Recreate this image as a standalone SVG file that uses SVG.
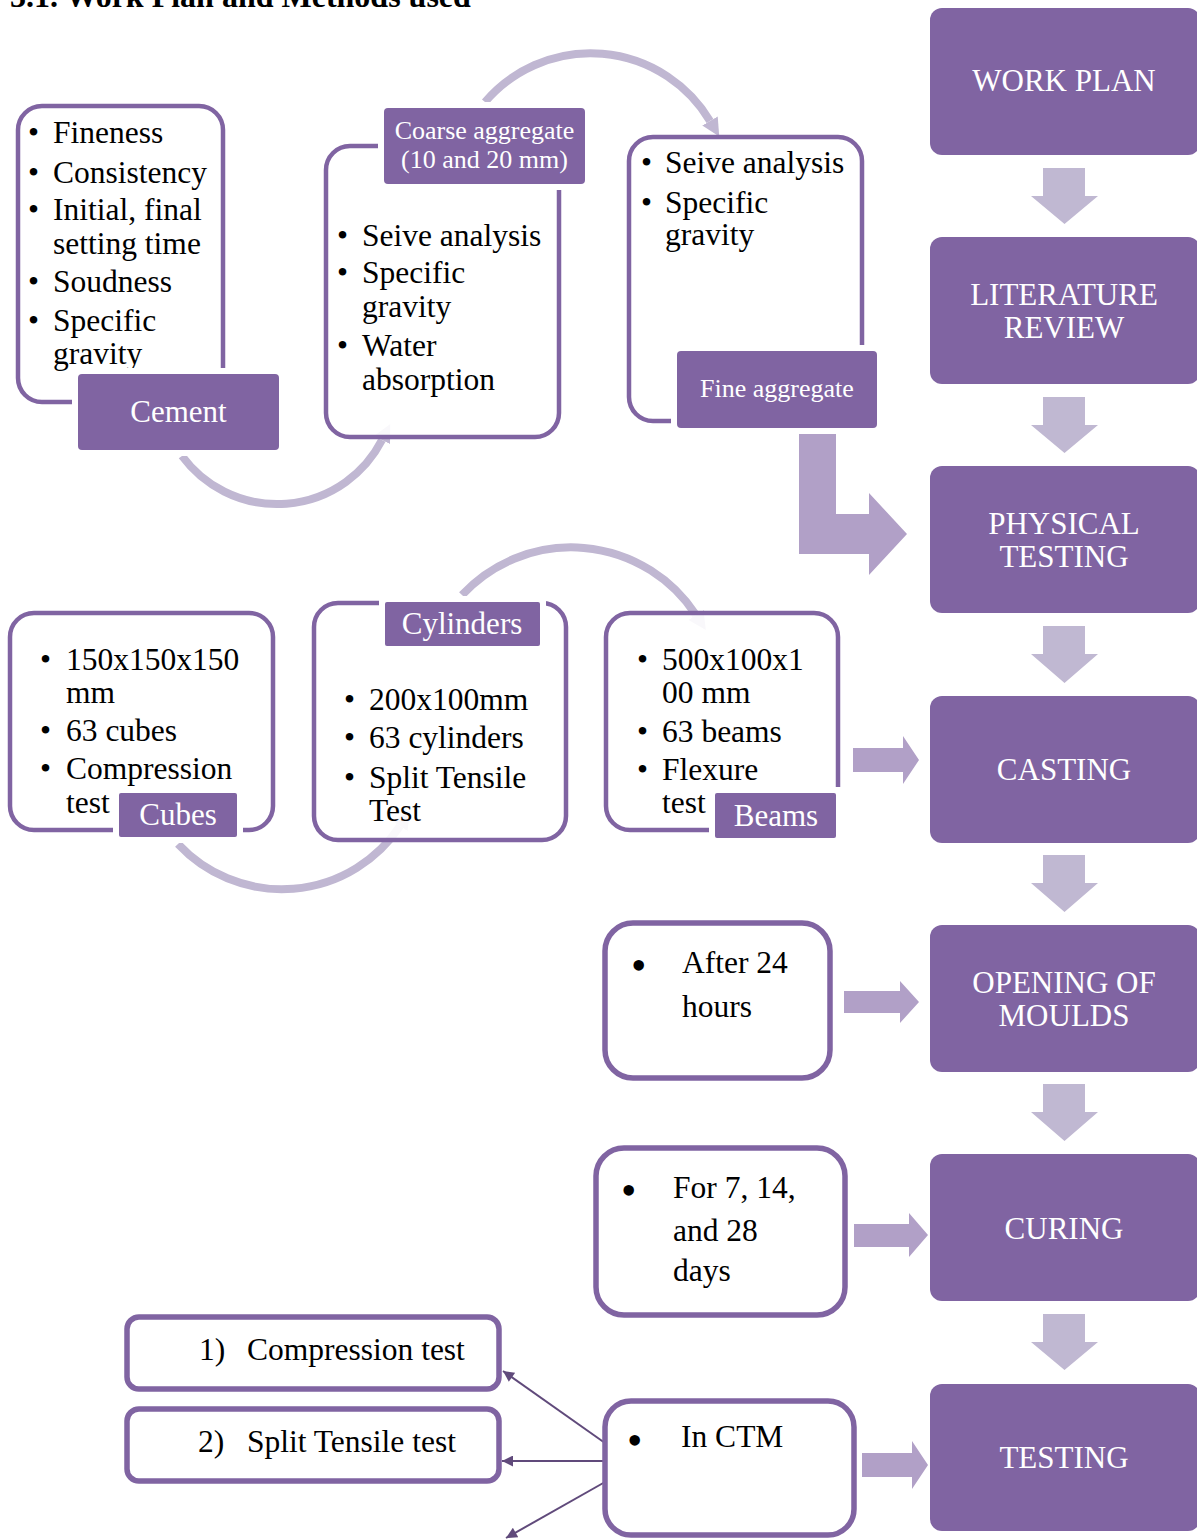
<svg xmlns="http://www.w3.org/2000/svg" width="1197" height="1540" viewBox="0 0 1197 1540">
<defs>
<style>
.t{font-family:"Liberation Serif","Times New Roman",serif;font-size:31.5px;fill:#000}
.w{font-family:"Liberation Serif","Times New Roman",serif;font-size:31px;fill:#fff}
.ws{font-family:"Liberation Serif","Times New Roman",serif;font-size:26px;fill:#fff}
.main{fill:#8064A2}
.lbl{fill:#8064A2}
.gap{fill:#fff}
.ob{fill:#fff;fill-opacity:0.9;stroke:#8064A2;stroke-width:4.5}
.ob2{fill:#fff;stroke:#8064A2;stroke-width:5.5}
.arc{fill:none;stroke:#C0B7D2;stroke-width:8}
.down{fill:#C0B8D2}
.right{fill:#B1A0C7}
.con{fill:none;stroke:#604A7B;stroke-width:2}
.bl{font-family:"Liberation Serif","Times New Roman",serif;font-size:44px;fill:#000}
</style>
<marker id="ah" viewBox="0 0 10 10" refX="0" refY="5" markerWidth="18" markerHeight="22" markerUnits="userSpaceOnUse" orient="auto">
<path d="M0,0 L10,5 L0,10 z" fill="#C0B7D2"/>
</marker>
<marker id="ca" viewBox="0 0 10 10" refX="10" refY="5" markerWidth="14" markerHeight="11" markerUnits="userSpaceOnUse" orient="auto">
<path d="M0,0 L10,5 L0,10 z" fill="#604A7B"/>
</marker>
</defs>
<rect width="1197" height="1540" fill="#fff"/>
<text x="10" y="7" style="font-family:'Liberation Serif','Times New Roman',serif;font-size:32px;font-weight:bold">3.1. Work Plan and Methods used</text>

<g id="connectors">
<!-- curved arcs -->
<path class="arc" d="M182,456 A118,118 0 0 0 382,440" marker-end="url(#ah)"/>
<path class="arc" d="M485,102 A139,139 0 0 1 710,121" marker-end="url(#ah)"/>
<path class="arc" d="M178,844 A142,142 0 0 0 400,826" marker-end="url(#ah)"/>
<path class="arc" d="M462,595 A149,149 0 0 1 696,615" marker-end="url(#ah)"/>
<!-- down arrows -->
<polygon class="down" points="1043,168 1085,168 1085,196 1098,196 1064.5,224 1031,196 1043,196"/>
<polygon class="down" points="1043,397 1085,397 1085,425 1098,425 1064.5,453 1031,425 1043,425"/>
<polygon class="down" points="1043,626 1085,626 1085,654 1098,654 1064.5,683 1031,654 1043,654"/>
<polygon class="down" points="1043,855 1085,855 1085,883 1098,883 1064.5,912 1031,883 1043,883"/>
<polygon class="down" points="1043,1084 1085,1084 1085,1112 1098,1112 1064.5,1141 1031,1112 1043,1112"/>
<polygon class="down" points="1043,1314 1085,1314 1085,1342 1098,1342 1064.5,1370 1031,1342 1043,1342"/>
<!-- bent arrow -->
<polygon class="right" points="799,433 836,433 836,514 869,514 869,493 907,534 869,575 869,554 799,554"/>
<!-- right arrows -->
<polygon class="right" points="853,748 903,748 903,736 919,760 903,784 903,772 853,772"/>
<polygon class="right" points="844,991 900,991 900,981 919,1002 900,1023 900,1013 844,1013"/>
<polygon class="right" points="854,1224 909,1224 909,1213 928,1235 909,1257 909,1247 854,1247"/>
<polygon class="right" points="862,1453 912,1453 912,1441 928,1465 912,1489 912,1477 862,1477"/>
<!-- CTM connectors -->
<line class="con" x1="605" y1="1443" x2="503" y2="1371" marker-end="url(#ca)"/>
<line class="con" x1="605" y1="1461" x2="502" y2="1461" marker-end="url(#ca)"/>
<line class="con" x1="605" y1="1482" x2="506" y2="1538" marker-end="url(#ca)"/>
</g>

<!-- right column -->
<g id="work-plan"><rect class="main" x="930" y="8" width="270" height="147" rx="12"/><text class="w" x="1064" y="91" text-anchor="middle">WORK PLAN</text></g>
<g id="literature-review"><rect class="main" x="930" y="237" width="270" height="147" rx="12"/><text class="w" x="1064" y="305" text-anchor="middle">LITERATURE</text><text class="w" x="1064" y="338" text-anchor="middle">REVIEW</text></g>
<g id="physical-testing"><rect class="main" x="930" y="466" width="270" height="147" rx="12"/><text class="w" x="1064" y="534" text-anchor="middle">PHYSICAL</text><text class="w" x="1064" y="567" text-anchor="middle">TESTING</text></g>
<g id="casting"><rect class="main" x="930" y="696" width="270" height="147" rx="12"/><text class="w" x="1064" y="780" text-anchor="middle">CASTING</text></g>
<g id="opening-of-moulds"><rect class="main" x="930" y="925" width="270" height="147" rx="12"/><text class="w" x="1064" y="993" text-anchor="middle">OPENING OF</text><text class="w" x="1064" y="1026" text-anchor="middle">MOULDS</text></g>
<g id="curing"><rect class="main" x="930" y="1154" width="270" height="147" rx="12"/><text class="w" x="1064" y="1239" text-anchor="middle">CURING</text></g>
<g id="testing"><rect class="main" x="930" y="1384" width="270" height="147" rx="12"/><text class="w" x="1064" y="1468" text-anchor="middle">TESTING</text></g>

<!-- section 1 -->
<g id="cement">
<rect class="ob" x="18" y="106" width="205" height="296" rx="24"/>
<text class="t" x="28" y="143">•</text><text class="t" x="53" y="143">Fineness</text>
<text class="t" x="28" y="183">•</text><text class="t" x="53" y="183">Consistency</text>
<text class="t" x="28" y="220">•</text><text class="t" x="53" y="220">Initial, final</text>
<text class="t" x="53" y="254">setting time</text>
<text class="t" x="28" y="292">•</text><text class="t" x="53" y="292">Soudness</text>
<text class="t" x="28" y="331">•</text><text class="t" x="53" y="331">Specific</text>
<text class="t" x="53" y="364">gravity</text>
<rect class="gap" x="72" y="368" width="213" height="88"/>
<rect class="lbl" x="78" y="374" width="201" height="76" rx="4"/>
<text class="w" x="178.5" y="422" text-anchor="middle">Cement</text>
</g>
<g id="coarse-aggregate">
<rect class="ob" x="326" y="146" width="233" height="291" rx="24"/>
<text class="t" x="337" y="246">•</text><text class="t" x="362" y="246">Seive analysis</text>
<text class="t" x="337" y="283">•</text><text class="t" x="362" y="283">Specific</text>
<text class="t" x="362" y="317">gravity</text>
<text class="t" x="337" y="356">•</text><text class="t" x="362" y="356">Water</text>
<text class="t" x="362" y="390">absorption</text>
<rect class="gap" x="378" y="102" width="213" height="88"/>
<rect class="lbl" x="384" y="108" width="201" height="76" rx="4"/>
<text class="ws" x="484.5" y="139" text-anchor="middle">Coarse aggregate</text>
<text class="ws" x="484.5" y="168" text-anchor="middle">(10 and 20 mm)</text>
</g>
<g id="fine-aggregate">
<rect class="ob" x="629" y="137" width="233" height="284" rx="24"/>
<text class="t" x="641" y="173">•</text><text class="t" x="665" y="173">Seive analysis</text>
<text class="t" x="641" y="213">•</text><text class="t" x="665" y="213">Specific</text>
<text class="t" x="665" y="245">gravity</text>
<rect class="gap" x="671" y="345" width="212" height="89"/>
<rect class="lbl" x="677" y="351" width="200" height="77" rx="4"/>
<text class="ws" x="777" y="397" text-anchor="middle">Fine aggregate</text>
</g>

<!-- section 2 -->
<g id="cubes">
<rect class="ob" x="10" y="613" width="263" height="217" rx="24"/>
<text class="t" x="40" y="670">•</text><text class="t" x="66" y="670">150x150x150</text>
<text class="t" x="66" y="703">mm</text>
<text class="t" x="40" y="741">•</text><text class="t" x="66" y="741">63 cubes</text>
<text class="t" x="40" y="779">•</text><text class="t" x="66" y="779">Compression</text>
<text class="t" x="66" y="813">test</text>
<rect class="gap" x="113" y="787" width="130" height="56"/>
<rect class="lbl" x="119" y="793" width="118" height="44" rx="2"/>
<text class="w" x="178" y="825" text-anchor="middle">Cubes</text>
</g>
<g id="cylinders">
<rect class="ob" x="314" y="603" width="252" height="237" rx="24"/>
<text class="t" x="344" y="710">•</text><text class="t" x="369" y="710">200x100mm</text>
<text class="t" x="344" y="748">•</text><text class="t" x="369" y="748">63 cylinders</text>
<text class="t" x="344" y="788">•</text><text class="t" x="369" y="788">Split Tensile</text>
<text class="t" x="369" y="821">Test</text>
<rect class="gap" x="379" y="596" width="167" height="56"/>
<rect class="lbl" x="385" y="602" width="155" height="44" rx="2"/>
<text class="w" x="462" y="634" text-anchor="middle">Cylinders</text>
</g>
<g id="beams">
<rect class="ob" x="606" y="613" width="232" height="217" rx="24"/>
<text class="t" x="637" y="670">•</text><text class="t" x="662" y="670">500x100x1</text>
<text class="t" x="662" y="703">00 mm</text>
<text class="t" x="637" y="742">•</text><text class="t" x="662" y="742">63 beams</text>
<text class="t" x="637" y="780">•</text><text class="t" x="662" y="780">Flexure</text>
<text class="t" x="662" y="813">test</text>
<rect class="gap" x="709" y="787" width="133" height="57"/>
<rect class="lbl" x="715" y="793" width="121" height="45" rx="2"/>
<text class="w" x="776" y="826" text-anchor="middle">Beams</text>
</g>

<!-- section 3 -->
<g id="after-24-hours">
<rect class="ob2" x="605" y="923" width="225" height="155" rx="28"/>
<text class="bl" x="631" y="980">•</text>
<text class="t" x="682" y="973">After 24</text>
<text class="t" x="682" y="1017">hours</text>
</g>
<g id="curing-days">
<rect class="ob2" x="596" y="1148" width="249" height="167" rx="28"/>
<text class="bl" x="621" y="1205">•</text>
<text class="t" x="673" y="1198">For 7, 14,</text>
<text class="t" x="673" y="1241">and 28</text>
<text class="t" x="673" y="1281">days</text>
</g>

<!-- section 4 -->
<g id="in-ctm">
<rect class="ob2" x="605" y="1401" width="249" height="134" rx="26"/>
<text class="bl" x="627" y="1455">•</text>
<text class="t" x="681" y="1447">In CTM</text>
</g>
<g id="compression-test">
<rect class="ob2" x="127" y="1317" width="372" height="72" rx="12"/>
<text class="t" x="199" y="1360">1)</text>
<text class="t" x="247" y="1360">Compression test</text>
</g>
<g id="split-tensile-test">
<rect class="ob2" x="127" y="1409" width="372" height="72" rx="12"/>
<text class="t" x="198" y="1452">2)</text>
<text class="t" x="247" y="1452">Split Tensile test</text>
</g>
</svg>
